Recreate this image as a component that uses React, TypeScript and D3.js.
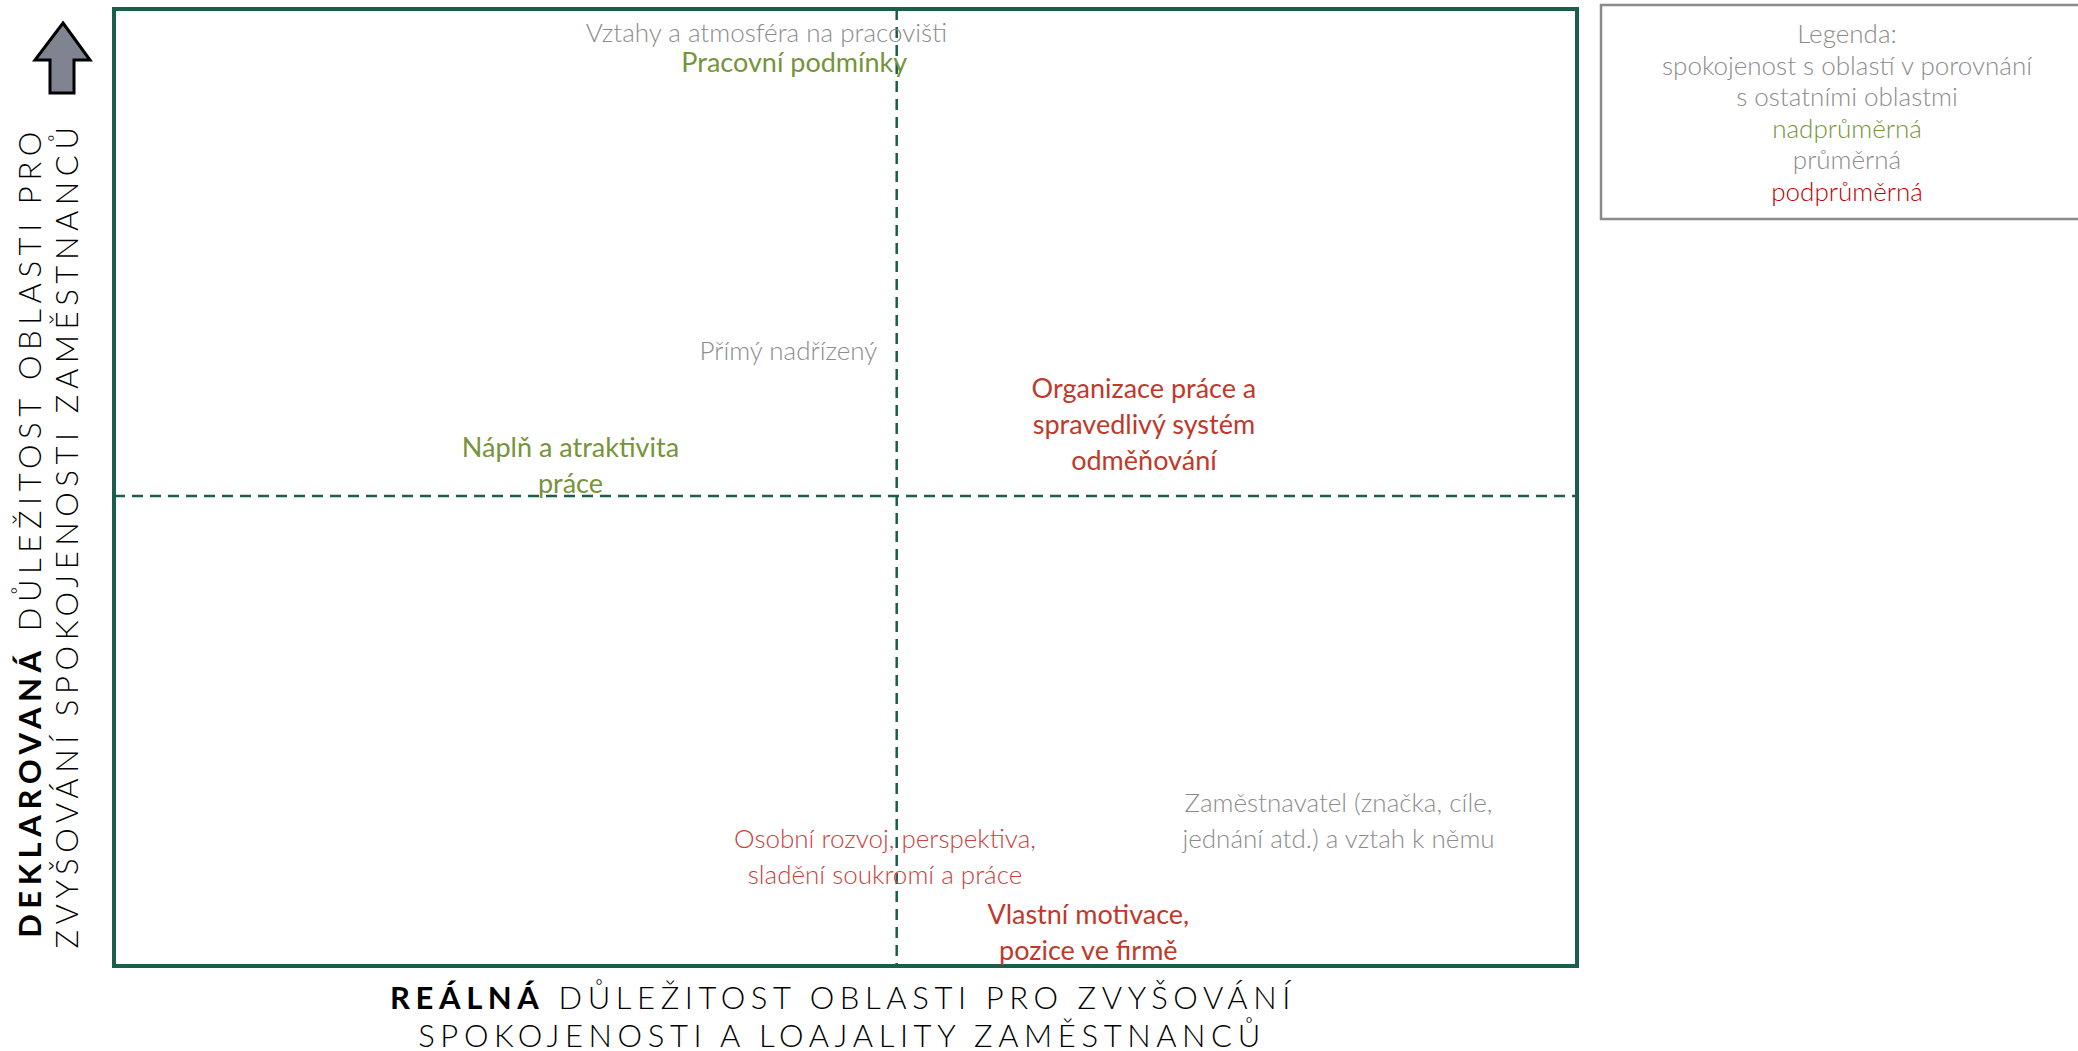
import React from "react";
import * as d3 from "d3";

// areas of the survey and their position in the importance matrix
const areas = [
  ["Vztahy a atmosféra na pracovišti"],
  ["Pracovní podmínky"],
  ["Přímý nadřízený"],
  ["Organizace práce a", "spravedlivý systém", "odměňování"],
  ["Náplň a atraktivita", "práce"],
  ["Osobní rozvoj, perspektiva,", "sladění soukromí a práce"],
  ["Zaměstnavatel (značka, cíle,", "jednání atd.) a vztah k němu"],
  ["Vlastní motivace,", "pozice ve firmě"],
];
const realImportance = [0.446, 0.465, 0.461, 0.704, 0.312, 0.527, 0.837, 0.666];
const declaredImportance = [0.976, 0.945, 0.644, 0.567, 0.524, 0.115, 0.153, 0.036];
const satisfaction = ["avg", "above", "avg", "below", "above", "belowLight", "avg", "below"];

const meanReal = 0.535;
const meanDeclared = 0.491;

const legendLines = [
  "Legenda:",
  "spokojenost s oblastí v porovnání",
  "s ostatními oblastmi",
  "nadprůměrná",
  "průměrná",
  "podprůměrná",
];
const legendKinds = ["avg", "avg", "avg", "legendAbove", "avg", "legendBelow"];

const colors = {
  avg: "#8c8c8c",
  above: "#77933c",
  legendAbove: "#77933c",
  below: "#c0392b",
  belowLight: "#cc4040",
  legendBelow: "#c00000",
};
const weights = { avg: 300, above: 400, legendAbove: 300, below: 400, belowLight: 300, legendBelow: 300 };
const sizes = { avg: 26, above: 27, below: 27, belowLight: 26 };

const W = 2078;
const H = 1051;
const frame = { left: 114, top: 9, right: 1577, bottom: 966 };
const green = "#1b5e4b";
const font = "Lato, 'Open Sans', sans-serif";

export default function App() {
  const x = d3.scaleLinear().domain([0, 1]).range([frame.left, frame.right]);
  const y = d3.scaleLinear().domain([0, 1]).range([frame.bottom, frame.top]);
  const lineH = 36;

  return (
    <svg
      width={W}
      height={H}
      style={{ position: "absolute", left: 0, top: 0, background: "#fff" }}
      fontFamily={font}
    >
      {/* arrow */}
      <path
        d="M63,23 L90,60 L74,60 L74,93 L50,93 L50,60 L35,60 Z"
        fill="#7f8490"
        stroke="#000"
        strokeWidth={3}
        strokeLinejoin="miter"
      />

      {/* quadrant dividers */}
      <line
        x1={x(meanReal)}
        x2={x(meanReal)}
        y1={frame.top}
        y2={frame.bottom}
        stroke={green}
        strokeWidth={2.5}
        strokeDasharray="11,7"
      />
      <line
        x1={frame.left}
        x2={frame.right}
        y1={y(meanDeclared)}
        y2={y(meanDeclared)}
        stroke={green}
        strokeWidth={2.5}
        strokeDasharray="11,7"
      />
      <rect
        x={frame.left}
        y={frame.top}
        width={frame.right - frame.left}
        height={frame.bottom - frame.top}
        fill="none"
        stroke={green}
        strokeWidth={4}
      />

      {/* area labels */}
      {areas.map((lines, i) => {
        const kind = satisfaction[i];
        const cy = y(declaredImportance[i]) - ((lines.length - 1) * lineH) / 2;
        return (
          <text
            key={i}
            textAnchor="middle"
            fontSize={sizes[kind]}
            fill={colors[kind]}
            fontWeight={weights[kind]}
          >
            {lines.map((l, j) => (
              <tspan key={j} x={x(realImportance[i])} y={cy + j * lineH} dominantBaseline="central">
                {l}
              </tspan>
            ))}
          </text>
        );
      })}

      {/* legend */}
      <rect x={1601} y={5} width={520} height={214} fill="none" stroke="#8a8a8a" strokeWidth={2.5} />
      {legendLines.map((l, i) => (
        <text
          key={i}
          x={1847}
          y={33 + i * 31.6}
          textAnchor="middle"
          dominantBaseline="central"
          fontSize={26}
          fill={colors[legendKinds[i]]}
          fontWeight={weights[legendKinds[i]]}
        >
          {l}
        </text>
      ))}

      {/* x axis title */}
      <g fontSize={31} letterSpacing={5.6} textAnchor="middle" fill="#000">
        <text x={843} y={997} dominantBaseline="central">
          <tspan fontWeight={700}>REÁLNÁ</tspan>
          <tspan fontWeight={300}> DŮLEŽITOST OBLASTI PRO ZVYŠOVÁNÍ</tspan>
        </text>
        <text x={842} y={1035} dominantBaseline="central" fontWeight={300}>
          SPOKOJENOSTI A LOAJALITY ZAMĚSTNANCŮ
        </text>
      </g>

      {/* y axis title */}
      <g fontSize={31} letterSpacing={5.6} textAnchor="middle" fill="#000">
        <text transform="translate(29,532) rotate(-90)" dominantBaseline="central">
          <tspan fontWeight={700}>DEKLAROVANÁ</tspan>
          <tspan fontWeight={300}> DŮLEŽITOST OBLASTI PRO</tspan>
        </text>
        <text transform="translate(66,535) rotate(-90)" dominantBaseline="central" fontWeight={300}>
          ZVYŠOVÁNÍ SPOKOJENOSTI ZAMĚSTNANCŮ
        </text>
      </g>
    </svg>
  );
}
